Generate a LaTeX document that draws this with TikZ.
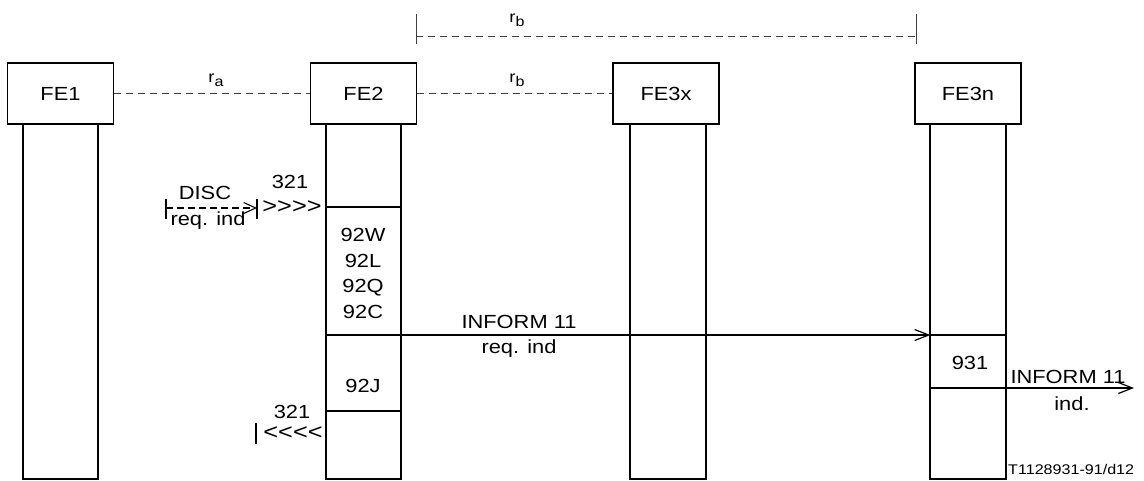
\documentclass[tikz,border=0pt]{standalone}
\usepackage{fontspec}
\setmainfont{Liberation Sans}[FakeStretch=1.15]
\usetikzlibrary{arrows.meta}
\begin{document}
\begin{tikzpicture}[x=1pt,y=-1pt,
  fe/.style={draw, line width=1.1pt, minimum width=106pt, minimum height=61pt, inner sep=0pt, font=\fontsize{19}{21}\selectfont},
  lifebox/.style={minimum width=75pt, minimum height=354pt, inner sep=0pt, anchor=north},
  life/.style={line width=1.8pt},
  seg/.style={line width=1.5pt},
  dsh/.style={dash pattern=on 7pt off 5pt, line width=0.9pt, draw=black!75},
  lbl/.style={font=\fontsize{19}{21}\selectfont, inner sep=0pt},
  rlbl/.style={font=\fontsize{16}{18}\selectfont, inner sep=0pt},
  chev/.style={font=\fontsize{22}{24}\selectfont, inner sep=0pt},
  msg/.style={line width=1.4pt, -{Straight Barb[length=14pt,width=11pt,line width=1.2pt]}},
]
\useasboundingbox (0,0) rectangle (1144,480);
% boxes
\node[fe] (fe1) at (60.5,93.5) {FE1};
\node[fe] (fe2) at (363.5,93.5) {FE2};
\node[fe] (fe3x) at (666,93.5) {FE3x};
\node[fe] (fe3n) at (968,93.5) {FE3n};
% lifelines
\node[lifebox] (l1) at (fe1.south) {};
\node[lifebox] (l2) at (fe2.south) {};
\node[lifebox] (l3x) at ([xshift=2pt]fe3x.south) {};
\node[lifebox] (l3n) at (fe3n.south) {};
\foreach \l in {l1,l2,l3x,l3n}{
  \draw[life] (\l.north west) -- (\l.south west) -- (\l.south east) -- (\l.north east);
}
% reference coordinates
\coordinate (y207) at (0,207);
\coordinate (y335) at (0,335);
\coordinate (y388) at (0,388);
\coordinate (y411) at (0,411);
% dashed relations
\draw[dsh] (fe1.east) -- (fe2.west);
\draw[dsh] (fe2.east) -- (fe3x.west);
\node[rlbl] (ra) at (216,80) {r\raisebox{-4pt}{\fontsize{14}{14}\selectfont a}};
\node[rlbl] (rb1) at (517,80) {r\raisebox{-4pt}{\fontsize{14}{14}\selectfont b}};
\coordinate (tl) at (416,36);
\coordinate (tr) at (916,36);
\draw[dsh] (tl) -- (tr);
\draw[line width=0.9pt, draw=black!75] ([yshift=-8pt]tl) -- ([yshift=22pt]tl);
\draw[line width=0.9pt, draw=black!75] ([yshift=-8pt]tr) -- ([yshift=22pt]tr);
\node[rlbl] (rb2) at (517,20) {r\raisebox{-4pt}{\fontsize{14}{14}\selectfont b}};
% FE2 segments
\draw[seg] (l2.west |- y207) -- (l2.east |- y207);
\draw[seg] (l2.west |- y411) -- (l2.east |- y411);
\draw[seg] (l2.west |- y335) -- (l2.east |- y335);
\node[lbl, align=center, font=\fontsize{19}{25.5}\selectfont] (codes) at (363,273.5) {92W\\92L\\92Q\\92C};
\node[lbl] (c92j) at (363,386) {92J};
% DISC
\coordinate (d1) at (166,208);
\coordinate (d2) at (257,208);
\draw[line width=1.2pt, dash pattern=on 7pt off 4pt, -{Straight Barb[length=12pt,width=11pt,line width=1.1pt]}] (d1) -- (d2);
\draw[line width=1.5pt] ([yshift=-11pt]d1) -- ([yshift=9pt]d1);
\draw[line width=1.5pt] ([yshift=-11pt]d2) -- ([yshift=9pt]d2);
\node[lbl] (disc) at (205,193) {DISC};
\node[lbl] (reqa) at (208,221) {req. ind};
\node[lbl] (n321a) at (290,182) {321};
\node[chev] (gt) at (292,207) {>\kern0pt>\kern0pt>\kern0pt>};
\node[lbl] (n321b) at (292,412) {321};
\node[chev] (lt) at (293,433) {<\kern0pt<\kern0pt<\kern0pt<};
\coordinate (lb) at (256,433);
\draw[line width=1.5pt] ([yshift=-11pt]lb) -- ([yshift=10pt]lb);
% INFORM 11 to FE3n
\draw[msg] (l2.east |- y335) -- (l3n.west |- y335);
\draw[seg] (l3n.west |- y335) -- (l3n.east |- y335);
\node[lbl] (inf1) at (519,322) {INFORM 11};
\node[lbl] (req1) at (519,349) {req. ind};
\node[lbl] (n931) at (970,363) {931};
\coordinate (outend) at (1134,388);
\draw[seg] (l3n.west |- y388) -- (l3n.east |- y388);
\draw[msg] (l3n.east |- y388) -- (outend);
\node[lbl] (inf2) at (1068,377) {INFORM 11};
\node[lbl] (ind2) at (1072,404) {ind.};
\node[inner sep=0pt, anchor=west, font=\fontsize{14}{15}\selectfont] (tag) at (1008,469) {T1128931-91/d12};
\end{tikzpicture}
\end{document}
